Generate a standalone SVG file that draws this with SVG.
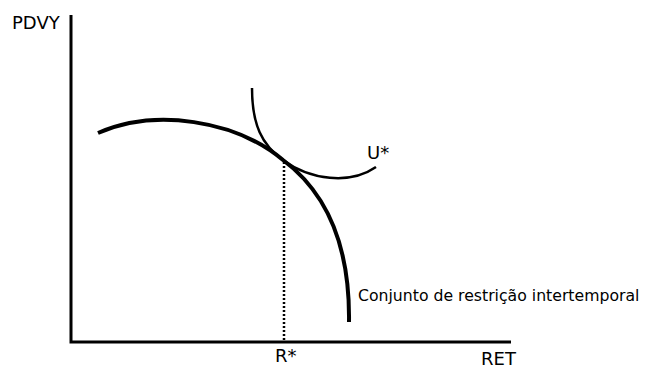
<svg xmlns="http://www.w3.org/2000/svg" width="648" height="368" viewBox="0 0 648 368">
<style>
.t{font-family:"DejaVu Sans",sans-serif;font-size:18px;fill:#000}
.s{font-size:15.7px}
.ax{stroke:#000;stroke-width:3;fill:none}
.c{stroke:#000;fill:none}
</style>
<rect width="648" height="368" fill="#fff"/>
<g id="axes">
<path class="ax" d="M71,15 V342 H511"/>
</g>
<g id="connectors">
<path class="c" stroke-width="4" d="M98,133 C155,108 235,120 283,160 C330,195 350,250 349,322"/>
<path class="c" stroke-width="2.5" d="M252,88 C252,125 262,145 283,160 C310,180 350,185 376,167"/>
<path class="c" stroke-width="2.5" stroke-dasharray="2,2" d="M284,162 V340"/>
</g>
<g id="labels">
<text class="t" x="12" y="29">PDVY</text>
<text class="t" x="367" y="159">U*</text>
<text class="t" x="275" y="362">R*</text>
<text class="t" x="481" y="365">RET</text>
<text class="t s" x="358" y="301">Conjunto de restrição intertemporal</text>
</g>
</svg>
